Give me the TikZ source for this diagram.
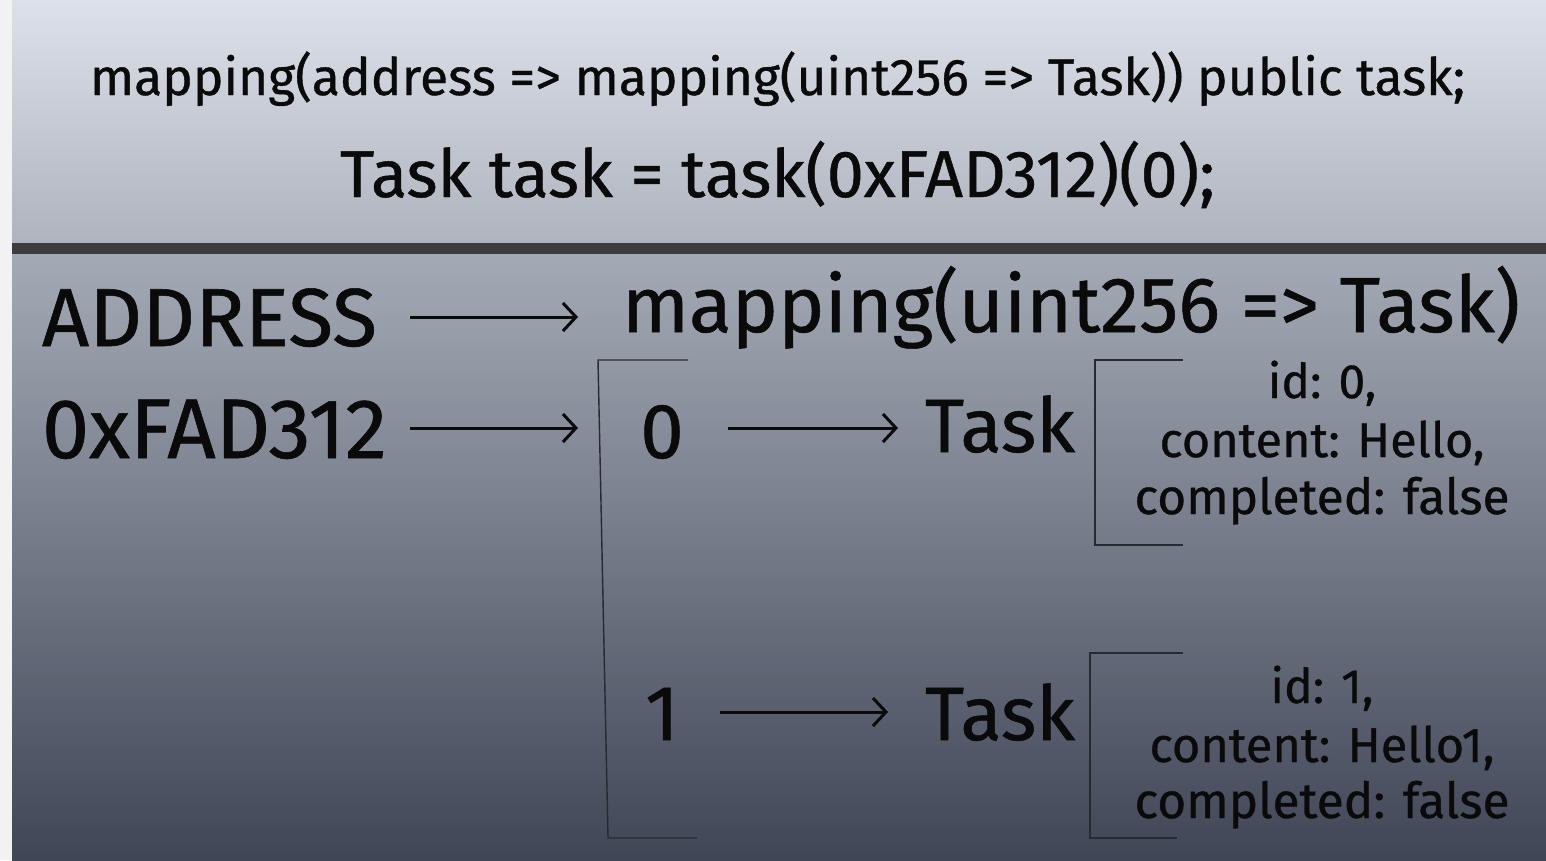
\documentclass[tikz,border=0pt]{standalone}
\usepackage{fontspec}
\setmainfont{Fira Sans}[FakeBold=0.7]
\usepackage{graphicx}
\usetikzlibrary{arrows.meta}
\newcommand\fitw[2]{\resizebox{#1}{!}{#2}}
\definecolor{bartop}{HTML}{DDE1EA}
\definecolor{barbot}{HTML}{AEB3BD}
\definecolor{lowtop}{HTML}{A4AAB5}
\definecolor{lowbot}{HTML}{404656}
\definecolor{divider}{HTML}{3D3D3D}
\definecolor{strip}{HTML}{F2F2F3}
\definecolor{ink}{HTML}{0A0A0A}
\definecolor{brk}{HTML}{262A32}
\begin{document}
\begin{tikzpicture}[x=1pt,y=-1pt,
  txt/.style={inner sep=0pt,outer sep=0pt,text=ink},
  big/.style={txt,font=\fontsize{78}{80}\selectfont},
  mid/.style={txt,font=\fontsize{48}{50}\selectfont},
  arr/.style={draw=ink,line width=3pt,-{Straight Barb[length=13pt,width=28pt,line width=3pt]}},
  brack/.style={draw=brk,line width=1.4pt}]
\useasboundingbox (0,0) rectangle (1546,860);
% background
\fill[strip] (0,0) rectangle (1546,860);
\shade[top color=bartop,bottom color=barbot] (12,0) rectangle (1546,243);
\shade[top color=lowtop,bottom color=lowbot] (12,254) rectangle (1546,860);
\fill[divider] (12,243) rectangle (1546,254);
% header text
\node[txt,anchor=base west,font=\fontsize{40}{42}\selectfont] (l1) at (90,95)
  {\fitw{1375pt}{mapping(address => mapping(uint256 => Task)) public task;}};
\node[txt,anchor=base west,font=\fontsize{52}{54}\selectfont] (l2) at (340,197)
  {\fitw{875pt}{Task task = task(0xFAD312)(0);}};
% left labels
\node[big,anchor=base west] (addr) at (42,346) {\fitw{335pt}{ADDRESS}};
\node[big,anchor=base west] (hex) at (42,458) {\fitw{345pt}{0xFAD312}};
\node[big,anchor=base west] (map) at (622,332) {\fitw{898pt}{mapping(uint256 => Task)}};
% keys
\node[big,anchor=base] (k0) at (662,458) {0};
\node[big,anchor=base] (k1) at (662,740) {1};
\node[big,anchor=base west] (t0) at (925,452) {\fitw{150pt}{Task}};
\node[big,anchor=base west] (t1) at (925,740) {\fitw{150pt}{Task}};
% struct values
\node[mid,anchor=base] (id0) at (1322,398) {id: 0,};
\node[mid,anchor=base] (c0) at (1322,457) {\fitw{325pt}{content: Hello,}};
\node[mid,anchor=base] (f0) at (1322,514) {\fitw{375pt}{completed: false}};
\node[mid,anchor=base] (id1) at (1322,703) {id: 1,};
\node[mid,anchor=base] (c1) at (1322,762) {\fitw{345pt}{content: Hello1,}};
\node[mid,anchor=base] (f1) at (1322,818) {\fitw{375pt}{completed: false}};
% brackets
\coordinate (b1a) at (688,360); \coordinate (b1b) at (598,360);
\coordinate (b1c) at (608,838); \coordinate (b1d) at (697,838);
\draw[brack] (b1a) -- (b1b) -- (b1c) -- (b1d);
\coordinate (b2a) at (1183,360); \coordinate (b2b) at (1095,360);
\coordinate (b2c) at (1095,545); \coordinate (b2d) at (1183,545);
\draw[brack] (b2a) -- (b2b) -- (b2c) -- (b2d);
\coordinate (b3a) at (1183,653); \coordinate (b3b) at (1090,653);
\coordinate (b3c) at (1090,838); \coordinate (b3d) at (1177,838);
\draw[brack] (b3a) -- (b3b) -- (b3c) -- (b3d);
% arrows
\coordinate (a1s) at (410,317); \coordinate (a1e) at (578,317);
\coordinate (a2s) at (410,428); \coordinate (a2e) at (578,428);
\coordinate (a3s) at (728,428); \coordinate (a3e) at (898,428);
\coordinate (a4s) at (720,712); \coordinate (a4e) at (888,712);
\draw[arr] (a1s) -- (a1e);
\draw[arr] (a2s) -- (a2e);
\draw[arr] (a3s) -- (a3e);
\draw[arr] (a4s) -- (a4e);
\end{tikzpicture}
\end{document}
